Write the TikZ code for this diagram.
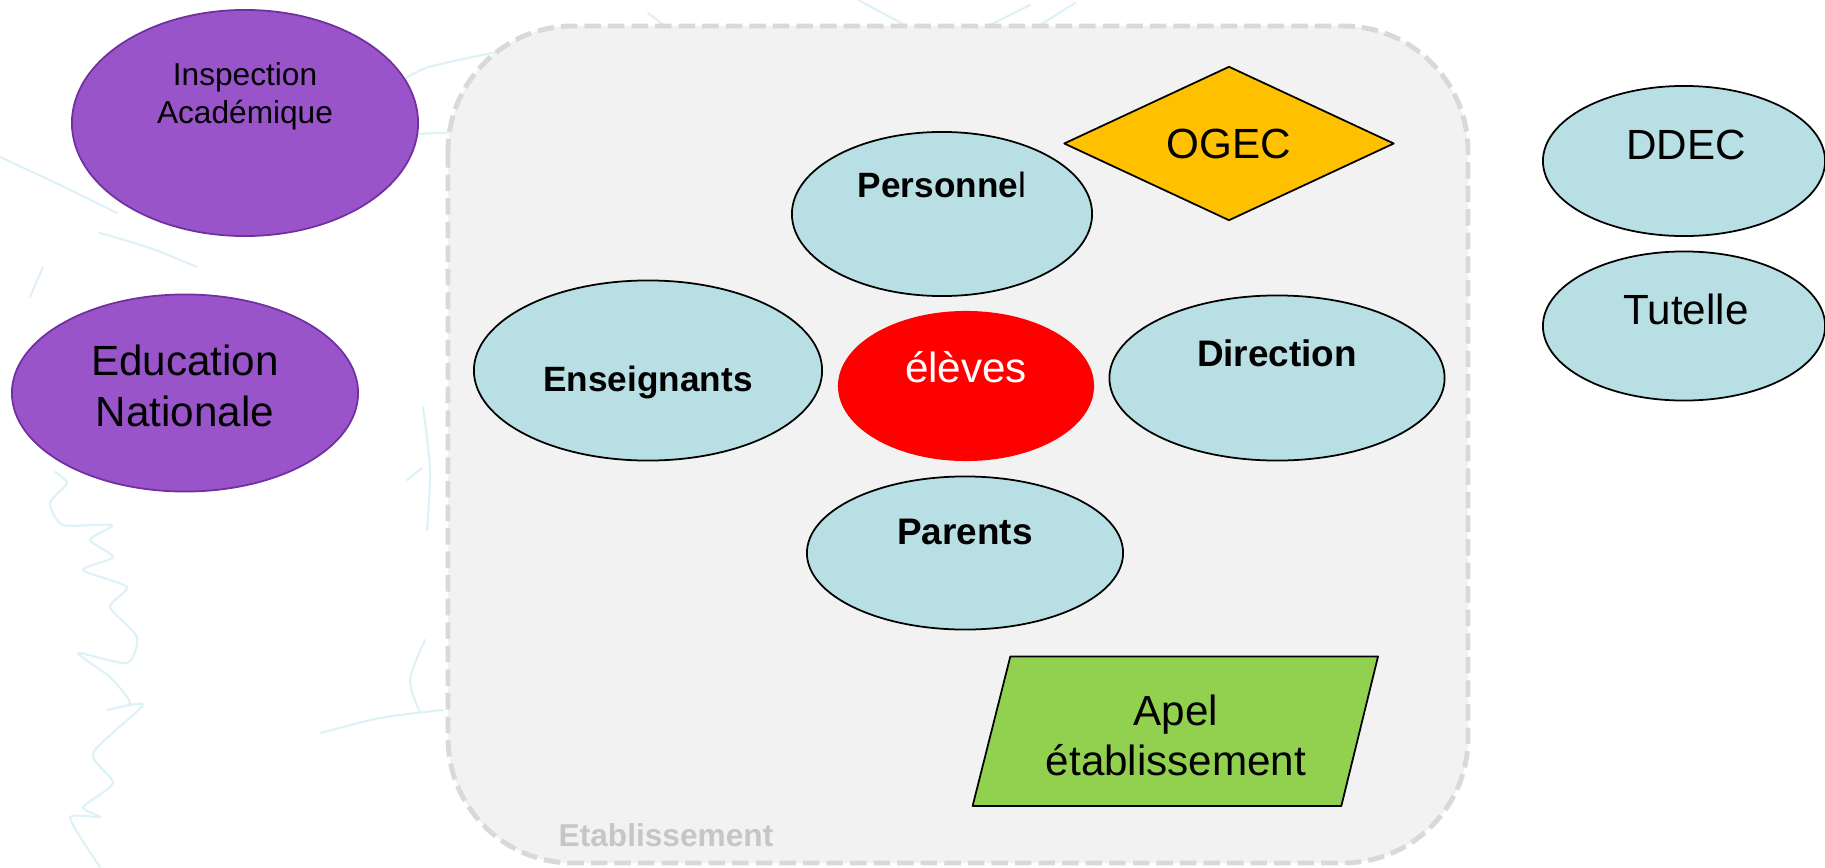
\documentclass[tikz,border=0pt]{standalone}
\usepackage{fontspec}
\setmainfont{Liberation Sans}
\usetikzlibrary{shapes.geometric}
\definecolor{lilas}{HTML}{9954C9}
\definecolor{lilasbord}{HTML}{7030A0}
\definecolor{bleuclair}{HTML}{B8DFE3}
\definecolor{ogecjaune}{HTML}{FFC000}
\definecolor{apelvert}{HTML}{92D050}
\definecolor{fondgris}{HTML}{F2F2F2}
\definecolor{bordgris}{HTML}{D9D9D9}
\definecolor{textegris}{HTML}{C6C6C6}
\definecolor{feuille}{HTML}{DDF2F7}

\begin{document}
\begin{tikzpicture}[x=0.01cm, y=-0.01cm, line join = round,
  bulle/.style={ellipse, draw, line width=0.5pt, fill=bleuclair, inner sep=0pt},
  violet/.style={ellipse, draw=lilasbord, line width=0.5pt, fill=lilas, inner sep=0pt},
  petit/.style={font=\fontsize{9}{10.9}\selectfont, align=center},
  moyen/.style={font=\fontsize{12}{14.3}\selectfont, align=center},
  gras/.style={font=\bfseries\fontsize{10}{12}\selectfont, anchor=base},
  plain/.style={font=\fontsize{12}{14}\selectfont, anchor=base},
  feuillage/.style={draw=feuille, line width=0.6pt, line cap=round}]
\useasboundingbox (0,0) rectangle (1825,867);

% feuillage en fond
\draw[feuillage] plot[smooth, tension=0.4] coordinates {(55,472) (67,483) (50,503) (63,525) (112,525) (90,540) (113,557) (83,570) (127,587) (110,607) (137,637) (127,663) (78,653) (110,677) (130,703) (107,710) (143,705) (93,753) (113,783) (83,807) (100,817) (70,818) (100,867)};
\draw[feuillage] plot[smooth] coordinates {(321,733) (380,718) (443,710)};
\draw[feuillage] plot[smooth] coordinates {(420,712) (410,680) (425,640)};
\draw[feuillage] plot[smooth] coordinates {(423,407) (430,470) (427,530)};
\draw[feuillage] (407,480) -- (422,468);
\draw[feuillage] plot[smooth] coordinates {(0,157) (60,185) (117,213)};
\draw[feuillage] plot[smooth] coordinates {(100,233) (150,248) (197,267)};
\draw[feuillage] (30,297) -- (43,267);
\draw[feuillage] plot[smooth] coordinates {(398,85) (429,67) (532,45)};
\draw[feuillage] (416,134) -- (461,132);
\draw[feuillage] (858,0) -- (920,33);
\draw[feuillage] (648,13) -- (666,27);
\draw[feuillage] (990,25) -- (1030,5);
\draw[feuillage] (1040,25) -- (1075,3);

% etablissement
\draw[bordgris, fill=fondgris, line width=1.4pt, dash pattern=on 4.7pt off 2pt,
  rounded corners=1.25cm] (448,26) rectangle (1468,863);
\node[font=\bfseries\fontsize{9}{11}\selectfont, text=textegris, anchor=base] (etab) at (666,846) {Etablissement};

% partenaires exterieurs
\node[violet, minimum width=3.46cm, minimum height=2.26cm] (inspection) at (245,123) {};
\node[petit] (inspection-txt) at (245,96) {Inspection\\Académique};
\node[violet, minimum width=3.46cm, minimum height=1.97cm] (education) at (185,393) {};
\node[moyen] (education-txt) at (185,386) {Education\\Nationale};
\node[bulle, minimum width=2.82cm, minimum height=1.50cm] (ddec) at (1684,161) {};
\node[plain] (ddec-txt) at (1686,159.3) {DDEC};
\node[bulle, minimum width=2.82cm, minimum height=1.49cm] (tutelle) at (1684,326) {};
\node[plain] (tutelle-txt) at (1686,324.7) {Tutelle};

% acteurs internes
\node[bulle, minimum width=3.0cm, minimum height=1.64cm] (personnel) at (942,214) {};
\node[gras] (personnel-txt) at (942,197) {Personne\mdseries l};
\node[bulle, minimum width=3.48cm, minimum height=1.80cm] (enseignants) at (648,370.5) {};
\node[gras] (enseignants-txt) at (648,391.6) {Enseignants};
\node[ellipse, fill=red, inner sep=0pt, minimum width=2.56cm, minimum height=1.50cm] (eleves) at (966,386) {};
\node[plain, text=white] (eleves-txt) at (966,382.7) {élèves};
\node[bulle, minimum width=3.35cm, minimum height=1.65cm] (direction) at (1277,378) {};
\node[gras, font=\bfseries\fontsize{10.5}{12}\selectfont] (direction-txt) at (1277,366) {Direction};
\node[bulle, minimum width=3.16cm, minimum height=1.53cm] (parents) at (965,553) {};
\node[gras, font=\bfseries\fontsize{10.5}{12}\selectfont] (parents-txt) at (965,544.8) {Parents};
\node[diamond, draw, line width=0.5pt, fill=ogecjaune, inner sep=0pt,
  minimum width=3.3cm, minimum height=1.5cm, font=\fontsize{12}{14}\selectfont] (ogec) at (1229,143.5) {OGEC};

% apel
\coordinate (apel-a) at (972.6,806);
\coordinate (apel-b) at (1010.3,656.5);
\coordinate (apel-c) at (1378,656.5);
\coordinate (apel-d) at (1341.3,806);
\draw[fill=apelvert, line width=0.5pt] (apel-a) -- (apel-b) -- (apel-c) -- (apel-d) -- cycle;
\node[moyen] (apel-txt) at (1176,735.7) {Apel\\établissement};
\end{tikzpicture}
\end{document}
